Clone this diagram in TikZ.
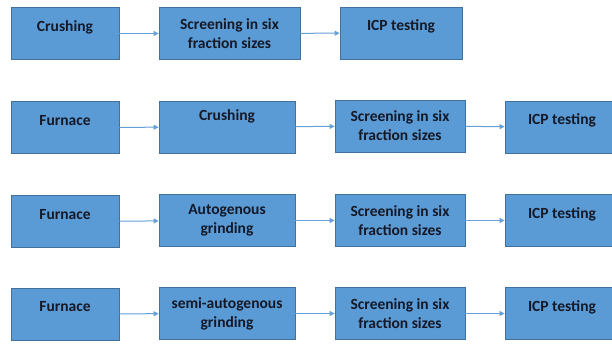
\documentclass[tikz,border=0pt]{standalone}
\usepackage{fontspec}
\setmainfont{Carlito}
\usetikzlibrary{arrows.meta,positioning}
\definecolor{boxblue}{RGB}{91,155,213}
\definecolor{boxedge}{RGB}{65,113,156}
\definecolor{arrblue}{RGB}{100,160,215}
\definecolor{txtdark}{RGB}{20,25,40}
\tikzset{
    sbox/.style={draw=boxedge, line width=0.8pt, fill=boxblue,
                 minimum width=#1, minimum height=52pt, text=txtdark,
                 font=\bfseries\fontsize{15.5}{19}\selectfont, align=center,
                 inner sep=0pt},
    oneline/.style={text depth=15pt},
}

\begin{document}
\begin{tikzpicture}[
    x=1pt, y=1pt,
    arr/.style={-{Triangle[length=5pt,width=5pt]}, line width=1pt, arrblue}
]
    \clip (0,0) rectangle (612,345);
    \fill[white] (0,0) rectangle (612,345);

    % row 1
    \node[sbox=108pt, oneline] (crushA) at (65,311.5) {Crushing};
    \node[sbox=141pt] (screenA) at (229.5,311.5) {Screening in six\\fraction sizes};
    \node[sbox=122pt, oneline] (icpA) at (401,312) {ICP testing};

    % row 2
    \node[sbox=108pt, oneline] (furnB) at (65,217.5) {Furnace};
    \node[sbox=136pt] (crushB) at (227,218) {Crushing\\\strut};
    \node[sbox=130pt] (screenB) at (400,219) {Screening in six\\fraction sizes};
    \node[sbox=114pt, oneline] (icpB) at (562,218) {ICP testing};

    % row 3
    \node[sbox=108pt, oneline] (furnC) at (65,123.5) {Furnace};
    \node[sbox=136pt] (autoC) at (227,124.5) {Autogenous\\grinding};
    \node[sbox=130pt] (screenC) at (400,124.5) {Screening in six\\fraction sizes};
    \node[sbox=114pt, oneline] (icpC) at (562,124.5) {ICP testing};

    % row 4
    \node[sbox=108pt, oneline] (furnD) at (65,31) {Furnace};
    \node[sbox=136pt] (semiD) at (227,31.5) {semi-autogenous\\grinding};
    \node[sbox=130pt] (screenD) at (400,31.5) {Screening in six\\fraction sizes};
    \node[sbox=114pt, oneline] (icpD) at (562,31.5) {ICP testing};

    \draw[arr] (crushA) -- (screenA);
    \draw[arr] (screenA) -- (icpA);

    \draw[arr] (furnB) -- (crushB);
    \draw[arr] (crushB) -- (screenB);
    \draw[arr] (screenB) -- (icpB);

    \draw[arr] (furnC) -- (autoC);
    \draw[arr] (autoC) -- (screenC);
    \draw[arr] (screenC) -- (icpC);

    \draw[arr] (furnD) -- (semiD);
    \draw[arr] (semiD) -- (screenD);
    \draw[arr] (screenD) -- (icpD);
\end{tikzpicture}
\end{document}
